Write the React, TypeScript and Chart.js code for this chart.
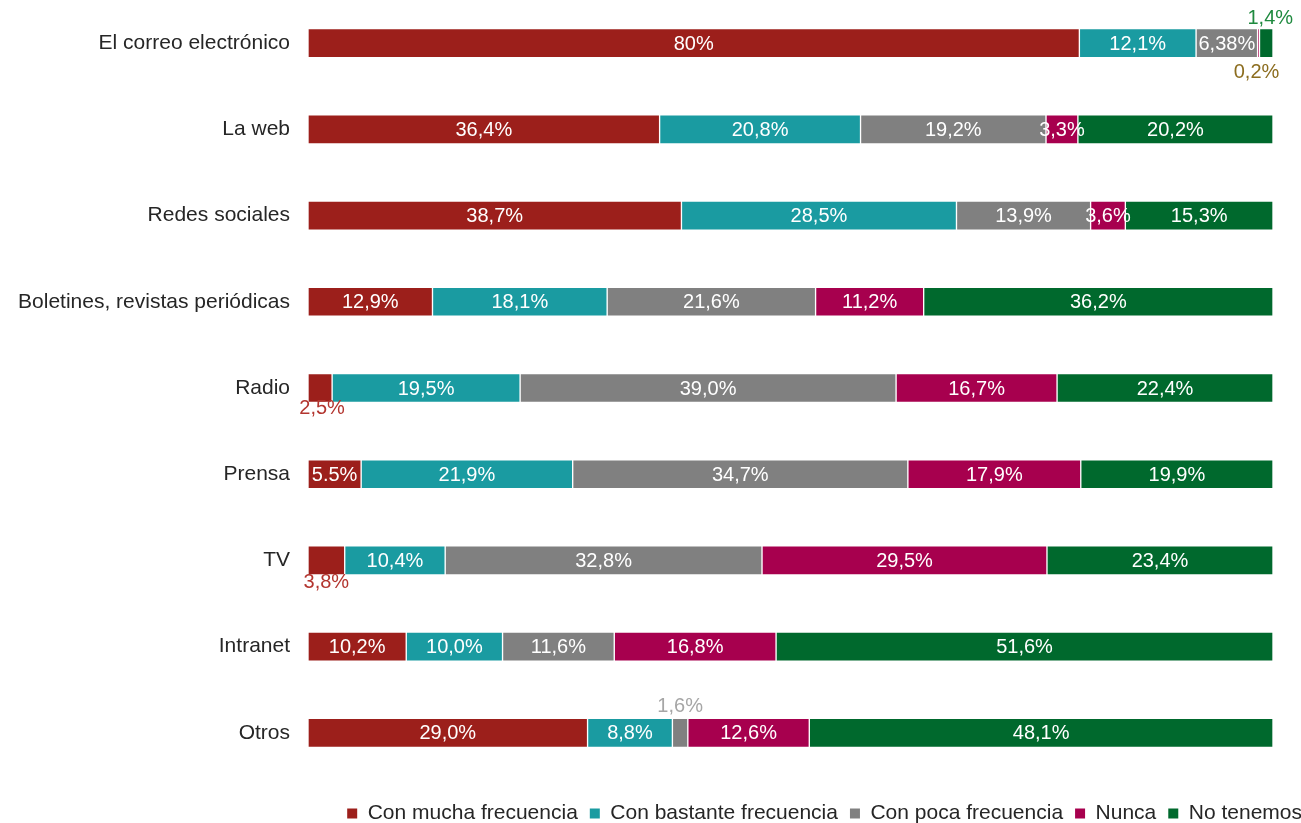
import React, { useEffect, useRef } from "react";
import { Chart, registerables } from "chart.js";

Chart.register(...registerables);

const categories = [
  "El correo electrónico",
  "La web",
  "Redes sociales",
  "Boletines, revistas periódicas",
  "Radio",
  "Prensa",
  "TV",
  "Intranet",
  "Otros",
];

const seriesNames = [
  "Con mucha frecuencia",
  "Con bastante frecuencia",
  "Con poca frecuencia",
  "Nunca",
  "No tenemos",
];

// values as printed on the chart (label text)
const muchaFrecuencia = ["80", "36,4", "38,7", "12,9", "2,5", "5.5", "3,8", "10,2", "29,0"];
const bastanteFrecuencia = ["12,1", "20,8", "28,5", "18,1", "19,5", "21,9", "10,4", "10,0", "8,8"];
const pocaFrecuencia = ["6,38", "19,2", "13,9", "21,6", "39,0", "34,7", "32,8", "11,6", "1,6"];
const nunca = ["0,2", "3,3", "3,6", "11,2", "16,7", "17,9", "29,5", "16,8", "12,6"];
const noTenemos = ["1,4", "20,2", "15,3", "36,2", "22,4", "19,9", "23,4", "51,6", "48,1"];

const seriesColors = ["#9C1F1B", "#1A9BA1", "#808080", "#A7004E", "#00692D"];

// labels drawn outside the bar: series index, category index, offsets, colour
const outsideLabels = [
  { s: 3, c: 0, dx: -2, dy: 29, color: "#8C6D1F" },
  { s: 4, c: 0, dx: 4, dy: -25, color: "#1F8A3F" },
  { s: 0, c: 4, dx: 2, dy: 20, color: "#B3352F" },
  { s: 0, c: 6, dx: 0, dy: 22, color: "#B3352F" },
  { s: 2, c: 8, dx: 0, dy: -26, color: "#A6A6A6" },
];

const FONT = "'Liberation Sans', Arial, sans-serif";

const toNum = (s: string) => parseFloat(s.replace(",", "."));

export default function App() {
  const ref = useRef<HTMLCanvasElement>(null);

  useEffect(() => {
    if (!ref.current) return;
    const raw = [muchaFrecuencia, bastanteFrecuencia, pocaFrecuencia, nunca, noTenemos];
    const sums = categories.map((_, i) => raw.reduce((a, arr) => a + toNum(arr[i]), 0));

    const labelPlugin = {
      id: "barLabels",
      afterDatasetsDraw(chart: any) {
        const ctx = chart.ctx;
        ctx.save();
        ctx.font = `20px ${FONT}`;
        ctx.textAlign = "center";
        ctx.textBaseline = "middle";
        chart.data.datasets.forEach((ds: any, si: number) => {
          const meta = chart.getDatasetMeta(si);
          meta.data.forEach((el: any, ci: number) => {
            const text = raw[si][ci] + "%";
            const cx = (el.x + el.base) / 2;
            const cy = el.y;
            const o = outsideLabels.find((l) => l.s === si && l.c === ci);
            if (o) {
              ctx.fillStyle = o.color;
              ctx.fillText(text, cx + o.dx, cy + o.dy);
            } else {
              ctx.fillStyle = "#FFFFFF";
              ctx.fillText(text, cx, cy + 1);
            }
          });
        });
        ctx.restore();
      },
    };

    const chart = new Chart(ref.current, {
      type: "bar",
      data: {
        labels: categories,
        datasets: raw.map((arr, si) => ({
          label: seriesNames[si],
          data: arr.map((v, i) => (toNum(v) / sums[i]) * 100),
          backgroundColor: seriesColors[si],
          borderColor: "#FFFFFF",
          borderWidth: 1,
          borderSkipped: false,
          barThickness: 29,
        })),
      },
      options: {
        indexAxis: "y",
        animation: false,
        responsive: false,
        maintainAspectRatio: false,
        layout: { padding: { left: 0, right: -13, top: 0, bottom: -11 } },
        scales: {
          x: {
            stacked: true,
            min: 0,
            max: 100,
            display: false,
          },
          y: {
            stacked: true,
            grid: { display: false, drawTicks: true, tickLength: 18 },
            border: { display: false },
            ticks: {
              color: "#262626",
              font: { family: FONT, size: 21 },
              padding: 0,
            },
            afterFit: (s: any) => {
              s.width = 308;
              s.paddingTop = 0;
              s.paddingBottom = 0;
            },
          },
          yRight: {
            type: "linear",
            position: "right",
            display: true,
            grid: { display: false },
            border: { display: false },
            ticks: { display: false },
            afterFit: (s: any) => {
              s.width = 41;
              s.paddingTop = 0;
              s.paddingBottom = 0;
            },
          },
        },
        plugins: {
          legend: {
            position: "bottom",
            align: "end",
            title: {
              display: true,
              text: " ",
              font: { family: FONT, size: 10 },
              padding: { top: 3, bottom: 0 },
            },
            labels: {
              boxWidth: 10,
              boxHeight: 10,
              padding: 12,
              color: "#262626",
              font: { family: FONT, size: 21 },
              generateLabels: (c: any) =>
                Chart.defaults.plugins.legend.labels
                  .generateLabels(c)
                  .map((l: any) => ({ ...l, lineWidth: 0 })),
            },
          },
          tooltip: { enabled: false },
        },
      },
      plugins: [labelPlugin],
    } as any);
    return () => chart.destroy();
  }, []);

  return (
    <div style={{ position: "absolute", left: 0, top: 0, width: 1301, height: 823, background: "#fff" }}>
      <canvas ref={ref} width={1301} height={823} />
    </div>
  );
}
